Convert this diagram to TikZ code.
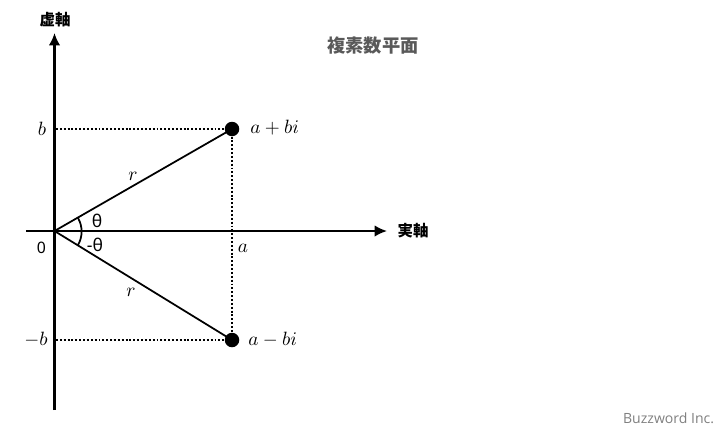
\documentclass[tikz,border=0pt]{standalone}
\usepackage{fontspec}
\setmainfont{Noto Sans}
\newfontfamily\cjk{Noto Sans CJK JP}
\newfontfamily\latinfont{Open Sans}
\usetikzlibrary{arrows.meta}
\definecolor{titlegray}{HTML}{595959}
\definecolor{markgray}{HTML}{7F7F7F}
\tikzset{
    axisline/.style={line width=1.15pt,-{Latex[length=7pt,width=6.5pt]}},
    radiusline/.style={line width=1pt},
    guideline/.style={line width=1.1pt,dash pattern=on 1.1pt off 1.1pt},
    pointdot/.style={circle,fill=black,inner sep=0pt,minimum size=0.29cm},
    axislabel/.style={font=\cjk\bfseries\fontsize{8.8}{10}\selectfont,inner sep=0pt},
    mathlabel/.style={font=\fontsize{11}{13}\selectfont,inner sep=0pt}
}
\begin{document}
\begin{tikzpicture}
    \useasboundingbox (0,0) rectangle (14.56,8.68);
    \coordinate (O) at (1.09,4.06);
    \coordinate (Ytop) at (1.09,8.02);
    \coordinate (Ybot) at (1.09,0.48);
    \coordinate (Xleft) at (0.52,4.06);
    \coordinate (Xright) at (7.74,4.06);
    \coordinate (Ab) at (1.12,6.10);
    \coordinate (Bb) at (1.12,1.88);
    \node[pointdot] (A) at (4.64,6.10) {};
    \node[pointdot] (B) at (4.64,1.88) {};
    % axes
    \draw[axisline] (Ybot) -- (Ytop);
    \draw[axisline] (Xleft) -- (Xright);
    % radius
    \draw[radiusline] (O) -- (A.center);
    \draw[radiusline] (O) -- (B.center);
    % guides
    \draw[guideline] (Ab) -- (A);
    \draw[guideline] (Bb) -- (B);
    \draw[guideline] (A) -- (B);
    % angle
    \draw[radiusline] (1.56,4.32) arc (30:-31:0.54);
    % labels
    \node[axislabel] (ylabel) at (1.10,8.28) {虚軸};
    \node[axislabel] (xlabel) at (8.26,4.06) {実軸};
    \node[font=\cjk\bfseries\fontsize{10.4}{12}\selectfont,text=titlegray,inner sep=0pt] (title) at (7.46,7.76) {複素数平面};
    \node[mathlabel] (zero) at (0.83,3.72) {\bfseries\fontsize{9}{10}\selectfont 0};
    \node[mathlabel] (blabel) at (0.84,6.10) {$b$};
    \node[mathlabel] (mblabel) at (0.72,1.88) {$-b$};
    \node[mathlabel] (alabel) at (4.86,3.72) {$a$};
    \node[mathlabel,anchor=west] (zlabel) at (5.00,6.12) {$a+bi$};
    \node[mathlabel,anchor=west] (wlabel) at (4.96,1.88) {$a-bi$};
    \node[mathlabel] (r1) at (2.66,5.16) {$r$};
    \node[mathlabel] (r2) at (2.62,2.84) {$r$};
    \node[mathlabel] (th1) at (1.94,4.26) {\fontsize{10}{11}\selectfont θ};
    \node[mathlabel] (th2) at (1.90,3.78) {\fontsize{10}{11}\selectfont \textbf{-}θ};
    \node[font=\latinfont\fontsize{8}{10}\selectfont,text=markgray,inner sep=0pt,anchor=east] (mark) at (14.29,0.31) {Buzzword Inc.};
\end{tikzpicture}
\end{document}
